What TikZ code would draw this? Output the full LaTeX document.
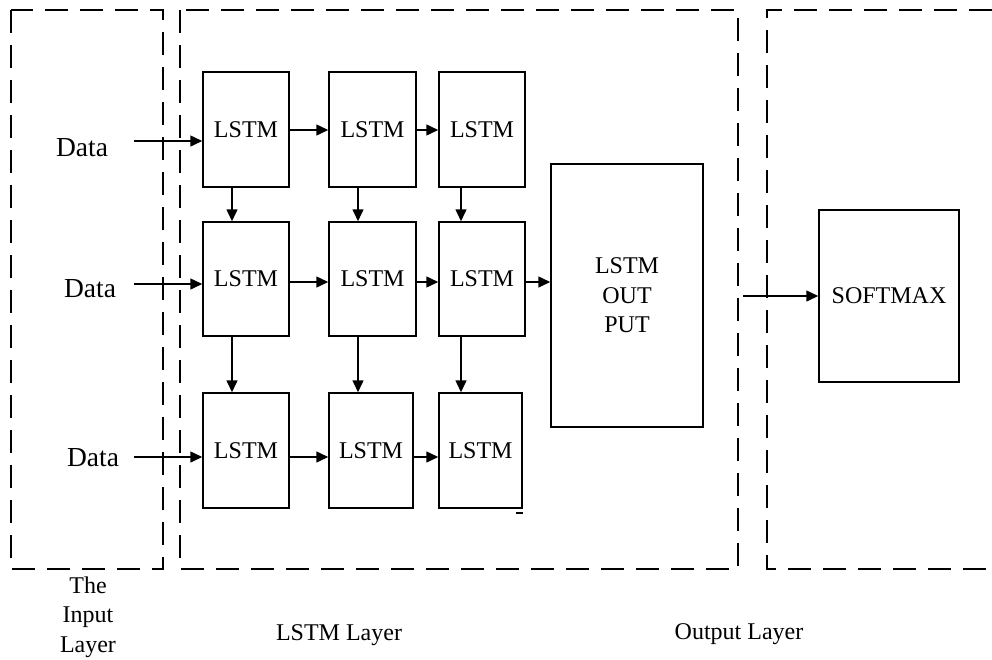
\documentclass[tikz,border=0pt]{standalone}
\usepackage{fontspec}
\setmainfont{Liberation Serif}
\usetikzlibrary{arrows.meta}
\begin{document}
\begin{tikzpicture}[x=1pt,y=-1pt,
  lay/.style={line width=1.4pt,dash pattern=on 23pt off 12pt},
  cell/.style={draw,line width=1.5pt,rectangle,inner sep=0pt,font=\fontsize{24}{29.5}\selectfont,align=center},
  arr/.style={line width=1.5pt,-{Triangle[length=12pt,width=11pt]}},
  lbl/.style={font=\fontsize{24}{29.5}\selectfont,align=center,inner sep=0pt},
  dlbl/.style={font=\fontsize{27.5}{32}\selectfont,inner sep=0pt}]
\useasboundingbox (0,0) rectangle (992,659);
% layer frames
\draw[lay] (11,10) rectangle (163,569);
\draw[lay] (180,10) rectangle (738,569);
\draw[lay] (992,10) -- (767,10) -- (767,569) -- (992,569);
% LSTM cells
\node[cell,minimum width=86,minimum height=115] (b11) at (246,129.5) {LSTM};
\node[cell,minimum width=87,minimum height=115] (b12) at (372.5,129.5) {LSTM};
\node[cell,minimum width=86,minimum height=115] (b13) at (482,129.5) {LSTM};
\node[cell,minimum width=86,minimum height=114] (b21) at (246,279) {LSTM};
\node[cell,minimum width=87,minimum height=114] (b22) at (372.5,279) {LSTM};
\node[cell,minimum width=86,minimum height=114] (b23) at (482,279) {LSTM};
\node[cell,minimum width=86,minimum height=115] (b31) at (246,450.5) {LSTM};
\node[cell,minimum width=84,minimum height=115] (b32) at (371,450.5) {LSTM};
\node[cell,minimum width=83,minimum height=115] (b33) at (480.5,450.5) {LSTM};
\node[cell,minimum width=152,minimum height=263] (out) at (627,295.5) {LSTM\\OUT\\PUT};
\node[cell,minimum width=140,minimum height=172] (sm) at (889,296) {SOFTMAX};
% data labels
\node[dlbl] (d1) at (82,148) {Data};
\node[dlbl] (d2) at (90,289) {Data};
\node[dlbl] (d3) at (93,458) {Data};
\coordinate (s1) at (134,141);
\coordinate (s2) at (134,284);
\coordinate (s3) at (134,457);
\draw[arr] (s1) -- (s1 -| b11.west);
\draw[arr] (s2) -- (s2 -| b21.west);
\draw[arr] (s3) -- (s3 -| b31.west);
% horizontal arrows
\coordinate (r1) at (0,130);
\draw[arr] (b11.east |- r1) -- (b12.west |- r1);
\draw[arr] (b12.east |- r1) -- (b13.west |- r1);
\coordinate (r2) at (0,282);
\draw[arr] (b21.east |- r2) -- (b22.west |- r2);
\draw[arr] (b22.east |- r2) -- (b23.west |- r2);
\draw[arr] (b23.east |- r2) -- (out.west |- r2);
\draw[arr] (b31.east |- s3) -- (b32.west |- s3);
\draw[arr] (b32.east |- s3) -- (b33.west |- s3);
% vertical arrows
\coordinate (c1) at (232,0);
\coordinate (c2) at (358,0);
\coordinate (c3) at (461,0);
\draw[arr] (b11.south -| c1) -- (b21.north -| c1);
\draw[arr] (b12.south -| c2) -- (b22.north -| c2);
\draw[arr] (b13.south -| c3) -- (b23.north -| c3);
\draw[arr] (b21.south -| c1) -- (b31.north -| c1);
\draw[arr] (b22.south -| c2) -- (b32.north -| c2);
\draw[arr] (b23.south -| c3) -- (b33.north -| c3);
% output arrow
\coordinate (os) at (743,296);
\draw[arr] (os) -- (sm.west);
% small mark
\coordinate (m1) at (516,513);
\coordinate (m2) at (523,513);
\draw[line width=1.4pt] (m1) -- (m2);
% layer labels
\node[lbl] (l1) at (88,617) {The\\Input\\Layer};
\node[lbl] (l2) at (339,635) {LSTM Layer};
\node[lbl] (l3) at (739,634) {Output Layer};
\end{tikzpicture}
\end{document}
